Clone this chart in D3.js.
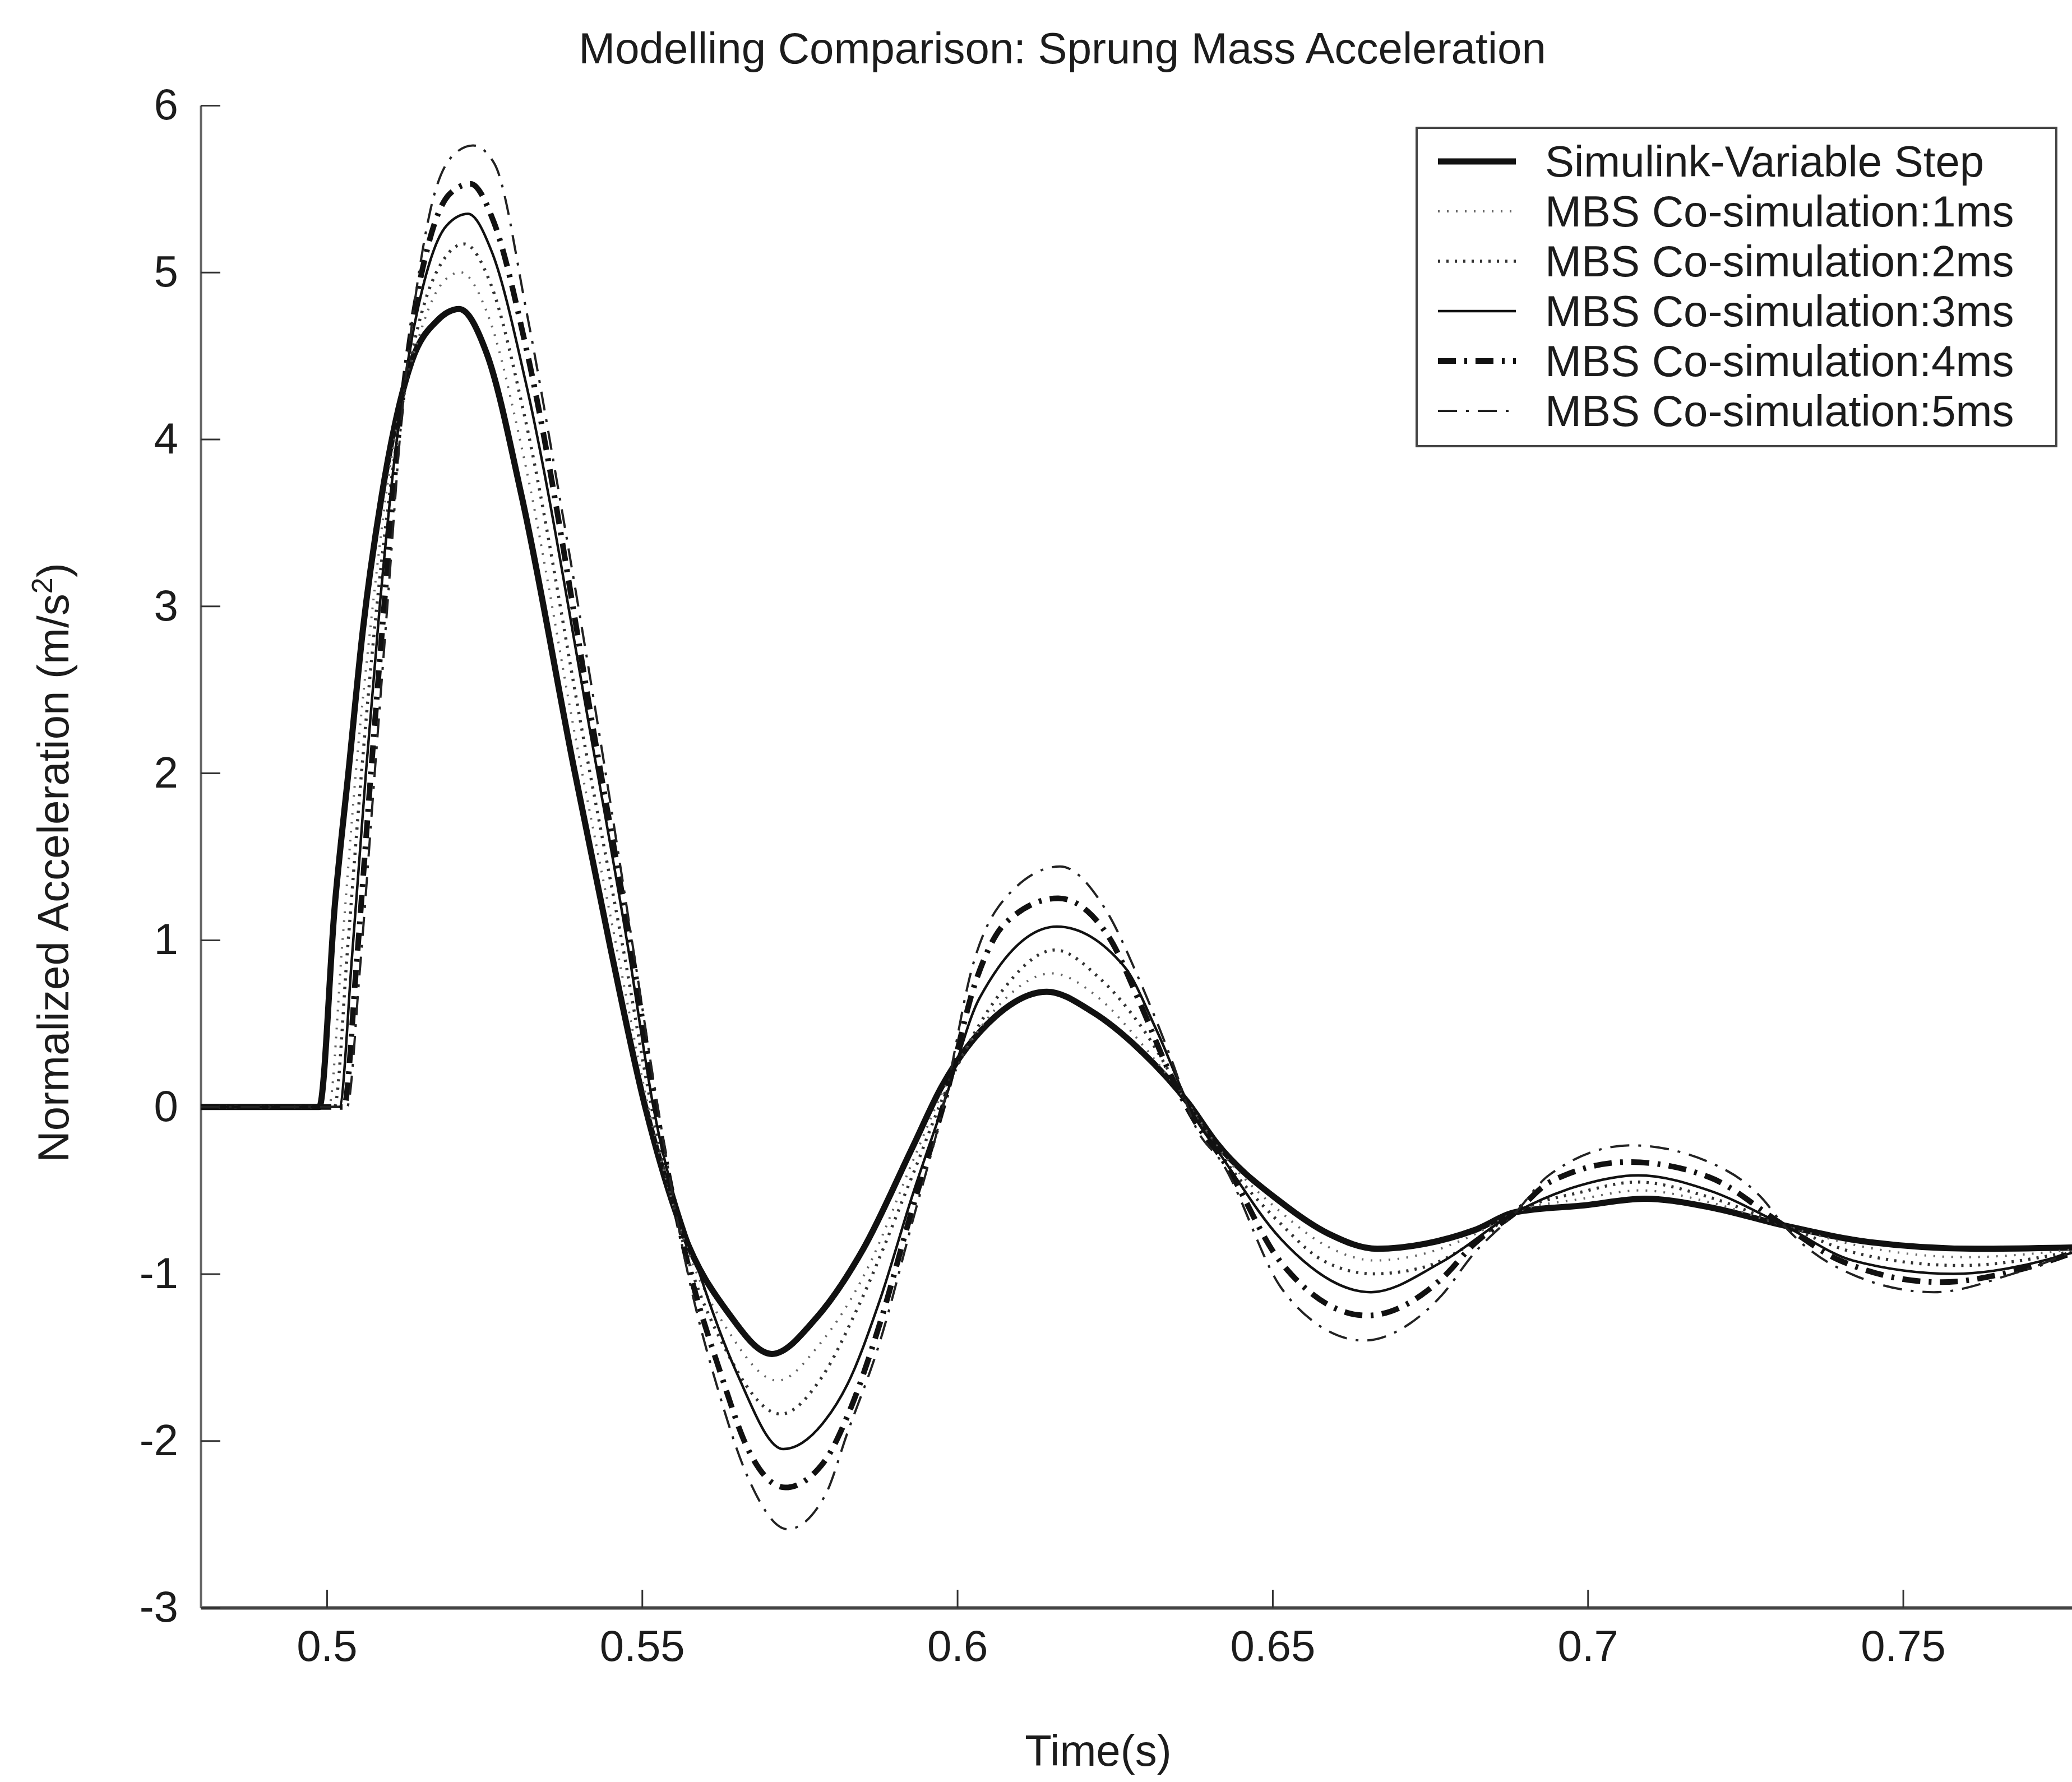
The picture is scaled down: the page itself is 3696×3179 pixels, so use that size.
<!DOCTYPE html>
<html>
<head>
<meta charset="utf-8">
<script src="https://cdn.jsdelivr.net/npm/d3@7"></script>
<style>
  body { margin: 0; background: #ffffff; }
  text { font-family: "Liberation Sans", Arial, Helvetica, sans-serif; fill: #1c1c1c; }
</style>
</head>
<body>
<svg id="chart" width="3696" height="3179"></svg>
<script>
// series names, as in the legend
let seriesNames = [
    "Simulink-Variable Step",
    "MBS Co-simulation:1ms",
    "MBS Co-simulation:2ms",
    "MBS Co-simulation:3ms",
    "MBS Co-simulation:4ms",
    "MBS Co-simulation:5ms"
];

// time (s) and normalized acceleration (m/s^2)
let timeSim = [0.48, 0.4988, 0.5013, 0.5035, 0.5057, 0.5087, 0.5107, 0.5135, 0.5175, 0.5210, 0.5254, 0.5309, 0.5392, 0.5450, 0.5505, 0.5565, 0.5636, 0.5706, 0.5775, 0.5851, 0.5928, 0.5975, 0.6060, 0.6142, 0.6214, 0.6290, 0.6367, 0.6410, 0.6513, 0.6589, 0.6666, 0.6742, 0.6819, 0.6886, 0.6994, 0.7090, 0.7192, 0.7311, 0.7447, 0.7617, 0.7800];
let accSim = [0, 0, 1.22, 2.03, 2.85, 3.66, 4.07, 4.47, 4.71, 4.78, 4.51, 3.66, 2.03, 0.95, 0.0, -0.75, -1.23, -1.48, -1.27, -0.85, -0.25, 0.12, 0.54, 0.69, 0.57, 0.34, 0.02, -0.21, -0.57, -0.76, -0.85, -0.82, -0.74, -0.63, -0.59, -0.55, -0.60, -0.71, -0.81, -0.85, -0.84];

let time1ms = [0.48, 0.5003, 0.5025, 0.5046, 0.5070, 0.5097, 0.5117, 0.5145, 0.5180, 0.5212, 0.5256, 0.5312, 0.5400, 0.5460, 0.5510, 0.5567, 0.5638, 0.5715, 0.5782, 0.5856, 0.5930, 0.5978, 0.6064, 0.6150, 0.6222, 0.6292, 0.6370, 0.6413, 0.6513, 0.6589, 0.6662, 0.6740, 0.6817, 0.6886, 0.6992, 0.7083, 0.7192, 0.7311, 0.7440, 0.7600, 0.7800];
let acc1ms = [0, 0, 1.0, 2.0, 2.9, 3.75, 4.2, 4.6, 4.92, 5.0, 4.74, 3.9, 2.1, 0.95, 0.0, -0.8, -1.35, -1.64, -1.42, -0.98, -0.32, 0.1, 0.6, 0.80, 0.66, 0.38, 0.0, -0.24, -0.63, -0.84, -0.92, -0.88, -0.77, -0.63, -0.55, -0.50, -0.57, -0.71, -0.84, -0.90, -0.84];

let time2ms = [0.48, 0.5012, 0.5033, 0.5055, 0.5078, 0.5104, 0.5124, 0.5150, 0.5186, 0.5218, 0.5260, 0.5313, 0.5410, 0.5470, 0.5515, 0.5568, 0.5632, 0.5720, 0.5785, 0.5840, 0.5930, 0.5980, 0.6068, 0.6155, 0.6226, 0.6292, 0.6372, 0.6415, 0.6513, 0.6580, 0.6660, 0.6740, 0.6815, 0.6886, 0.6990, 0.7078, 0.7192, 0.7311, 0.7430, 0.7590, 0.7800];
let acc2ms = [0, 0, 0.95, 2.0, 2.95, 3.8, 4.3, 4.75, 5.08, 5.17, 4.93, 4.15, 2.15, 0.95, 0.0, -0.85, -1.45, -1.84, -1.62, -1.22, -0.40, 0.08, 0.68, 0.94, 0.77, 0.48, -0.02, -0.27, -0.70, -0.92, -1.0, -0.96, -0.82, -0.63, -0.51, -0.45, -0.54, -0.71, -0.88, -0.95, -0.84];

let time3ms = [0.48, 0.5020, 0.5040, 0.5062, 0.5084, 0.5108, 0.5128, 0.5155, 0.5190, 0.5224, 0.5262, 0.5315, 0.5420, 0.5478, 0.5518, 0.5595, 0.5651, 0.5724, 0.5790, 0.5826, 0.5877, 0.5928, 0.5982, 0.6035, 0.6158, 0.6265, 0.6316, 0.6375, 0.6418, 0.6513, 0.6656, 0.6768, 0.6886, 0.6988, 0.7080, 0.7192, 0.7311, 0.7420, 0.7580, 0.7800];
let acc3ms = [0, 0, 0.9, 2.0, 3.0, 3.9, 4.45, 4.95, 5.28, 5.35, 5.12, 4.35, 2.2, 0.95, 0.0, -1.04, -1.6, -2.05, -1.88, -1.66, -1.16, -0.54, 0.06, 0.65, 1.08, 0.84, 0.46, -0.05, -0.29, -0.79, -1.11, -0.93, -0.63, -0.47, -0.41, -0.50, -0.71, -0.92, -1.0, -0.84];

let time4ms = [0.48, 0.5027, 0.5047, 0.5070, 0.5092, 0.5113, 0.5132, 0.5160, 0.5195, 0.5228, 0.5265, 0.5316, 0.5430, 0.5485, 0.5522, 0.5570, 0.5625, 0.5668, 0.5727, 0.5790, 0.5826, 0.5877, 0.5928, 0.5981, 0.6030, 0.6076, 0.6160, 0.6240, 0.6290, 0.6335, 0.6376, 0.6420, 0.6513, 0.6650, 0.6768, 0.6820, 0.6886, 0.6940, 0.7065, 0.7192, 0.7311, 0.7400, 0.7560, 0.7680, 0.7800];
let acc4ms = [0, 0, 0.85, 2.0, 3.05, 4.0, 4.6, 5.15, 5.47, 5.53, 5.30, 4.55, 2.1, 0.9, 0.0, -0.9, -1.6, -2.05, -2.28, -2.12, -1.85, -1.30, -0.62, 0.05, 0.76, 1.1, 1.25, 1.02, 0.62, 0.22, -0.08, -0.31, -0.93, -1.25, -1.03, -0.82, -0.63, -0.45, -0.33, -0.42, -0.71, -0.92, -1.05, -0.98, -0.83];

let time5ms = [0.48, 0.5032, 0.5052, 0.5076, 0.5098, 0.5118, 0.5137, 0.5163, 0.5200, 0.5232, 0.5266, 0.5317, 0.5369, 0.5441, 0.5490, 0.5525, 0.5570, 0.5621, 0.5668, 0.5731, 0.5790, 0.5826, 0.5877, 0.5928, 0.5980, 0.6024, 0.6076, 0.6163, 0.6234, 0.6290, 0.6341, 0.6378, 0.6421, 0.6513, 0.6563, 0.6645, 0.6717, 0.6768, 0.6819, 0.6886, 0.6938, 0.7068, 0.7192, 0.7277, 0.7311, 0.7390, 0.7549, 0.7674, 0.7800];
let acc5ms = [0, 0, 0.8, 2.0, 3.1, 4.1, 4.75, 5.35, 5.70, 5.76, 5.65, 4.76, 3.66, 2.03, 0.85, 0.0, -0.95, -1.70, -2.22, -2.53, -2.33, -1.95, -1.41, -0.70, 0.04, 0.84, 1.25, 1.44, 1.19, 0.75, 0.27, -0.12, -0.34, -1.08, -1.28, -1.40, -1.30, -1.13, -0.88, -0.63, -0.41, -0.23, -0.33, -0.55, -0.71, -0.95, -1.11, -1.00, -0.82];

let xTicks = [0.5, 0.55, 0.6, 0.65, 0.7, 0.75];
let yTicks = [-3, -2, -1, 0, 1, 2, 3, 4, 5, 6];

let times = [timeSim, time1ms, time2ms, time3ms, time4ms, time5ms];
let accs = [accSim, acc1ms, acc2ms, acc3ms, acc4ms, acc5ms];

// line looks, one per series (solid thick, dotted, dotted, thin solid, thick dash-dot, thin dash-dot)
let lineStyles = [
    { color: "#111", width: 11, dash: null },
    { color: "#666", width: 4, dash: "3,13" },
    { color: "#333", width: 5.5, dash: "4,11" },
    { color: "#111", width: 4.5, dash: null },
    { color: "#111", width: 10, dash: "32,15,5,15" },
    { color: "#222", width: 4, dash: "34,16,5,16" }
];

function drawChart() {
    var svg = d3.select("#chart");

    var left = 358, right = 3732, top = 188, bottom = 2868;

    var xScale = d3.scaleLinear().domain([0.48, 0.78]).range([left, right]),
        yScale = d3.scaleLinear().domain([-3, 6]).range([bottom, top]);

    // Title
    svg.append("text")
        .attr("x", 1895)
        .attr("y", 113)
        .attr("text-anchor", "middle")
        .style("font-size", "78px")
        .text("Modelling Comparison: Sprung Mass Acceleration");

    // X label
    svg.append("text")
        .attr("x", 1959)
        .attr("y", 3150)
        .attr("text-anchor", "middle")
        .style("font-size", "78px")
        .text("Time(s)");

    // Y label
    let yLabel = svg.append("text")
        .attr("text-anchor", "middle")
        .attr("transform", "translate(122,1539)rotate(-90)")
        .style("font-size", "78px");
    yLabel.append("tspan").text("Normalized Acceleration (m/s");
    yLabel.append("tspan").attr("baseline-shift", "super").style("font-size", "52px").text("2");
    yLabel.append("tspan").text(")");

    // axes, ticks pointing inwards like MATLAB
    let xAxis = svg.append("g")
        .attr("transform", "translate(0," + bottom + ")")
        .call(d3.axisBottom(xScale).tickValues(xTicks).tickFormat(d => String(d))
            .tickSizeInner(-32).tickSizeOuter(0).tickPadding(40));

    let yAxis = svg.append("g")
        .attr("transform", "translate(" + left + ",0)")
        .call(d3.axisLeft(yScale).tickValues(yTicks).tickFormat(d => String(d))
            .tickSizeInner(-35).tickSizeOuter(0).tickPadding(40));

    [xAxis, yAxis].forEach(function (ax) {
        ax.selectAll("text")
            .style("font-size", "78px")
            .style("font-family", "'Liberation Sans', Arial, sans-serif")
            .attr("fill", "#1c1c1c");
        ax.selectAll(".tick line").attr("stroke", "#333").attr("stroke-width", 3);
    });
    xAxis.select(".domain").attr("stroke", "#444").attr("stroke-width", 6);
    yAxis.select(".domain").attr("stroke", "#666").attr("stroke-width", 4);

    var line = d3.line()
        .x(function (d) { return xScale(d[0]); })
        .y(function (d) { return yScale(d[1]); })
        .curve(d3.curveMonotoneX);

    let datasets = [];
    times.forEach(function (t, i) {
        let dataset = [];
        t.forEach(function (tv, j) {
            dataset.push([tv, accs[i][j]]);
        });
        datasets.push(dataset);
    });

    datasets.forEach(function (dataset, i) {
        let st = lineStyles[i];
        svg.append("path")
            .datum(dataset)
            .attr("class", "line")
            .attr("d", line)
            .style("fill", "none")
            .style("stroke", st.color)
            .style("stroke-width", st.width)
            .style("stroke-linejoin", "round")
            .style("stroke-dasharray", st.dash);
    });

    // Legend
    let legend = svg.append("g");
    legend.append("rect")
        .attr("x", 2527)
        .attr("y", 228)
        .attr("width", 1141)
        .attr("height", 568)
        .attr("fill", "#ffffff")
        .attr("stroke", "#444")
        .attr("stroke-width", 4);

    seriesNames.forEach(function (name, i) {
        let st = lineStyles[i];
        let cy = 288 + i * 89;
        legend.append("line")
            .attr("x1", 2565)
            .attr("x2", 2704)
            .attr("y1", cy)
            .attr("y2", cy)
            .style("stroke", st.color)
            .style("stroke-width", st.width)
            .style("stroke-dasharray", st.dash);
        legend.append("text")
            .attr("x", 2756)
            .attr("y", cy + 27)
            .style("font-size", "78px")
            .text(name);
    });
}

drawChart();
</script>
</body>
</html>
